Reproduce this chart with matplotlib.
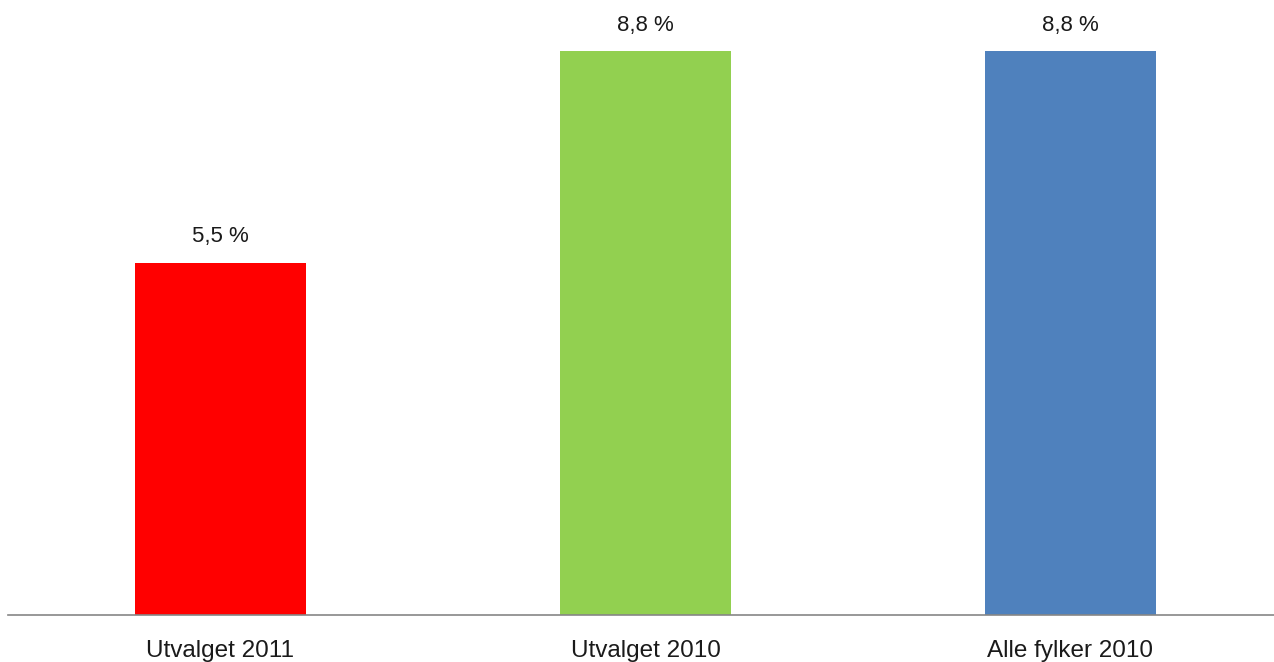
import matplotlib.pyplot as plt

categories = ["Utvalget 2011", "Utvalget 2010", "Alle fylker 2010"]
values = [5.5, 8.8, 8.8]
labels = ["5,5 %", "8,8 %", "8,8 %"]
colors = ["#ff0000", "#92d050", "#4f81bd"]

plt.rcParams['font.family'] = ['Liberation Sans', 'DejaVu Sans']

fig = plt.figure(figsize=(12.74, 6.62), dpi=100)
ax = fig.add_axes([8/1274, 47/662, 1266/1274, 615/662])

x = range(len(categories))
bars = ax.bar(x, values, width=0.402, color=colors)
for b, lab in zip(bars, labels):
    ax.annotate(lab, (b.get_x() + b.get_width()/2, b.get_height()),
                xytext=(0, 11), textcoords='offset points',
                ha='center', va='bottom', fontsize=16, color='#1a1a1a')

ax.set_xlim(-0.5, 2.479)
ax.set_ylim(0, 9.6)
ax.set_xticks(list(x))
ax.set_xticklabels(categories, fontsize=17.5, color='#1a1a1a')
ax.tick_params(axis='x', length=0, pad=18)
ax.set_yticks([])
for s in ['top', 'right', 'left']:
    ax.spines[s].set_visible(False)
ax.spines['bottom'].set_color('#868686')
ax.spines['bottom'].set_linewidth(1.2)

fig.savefig('out.png', dpi=100)
